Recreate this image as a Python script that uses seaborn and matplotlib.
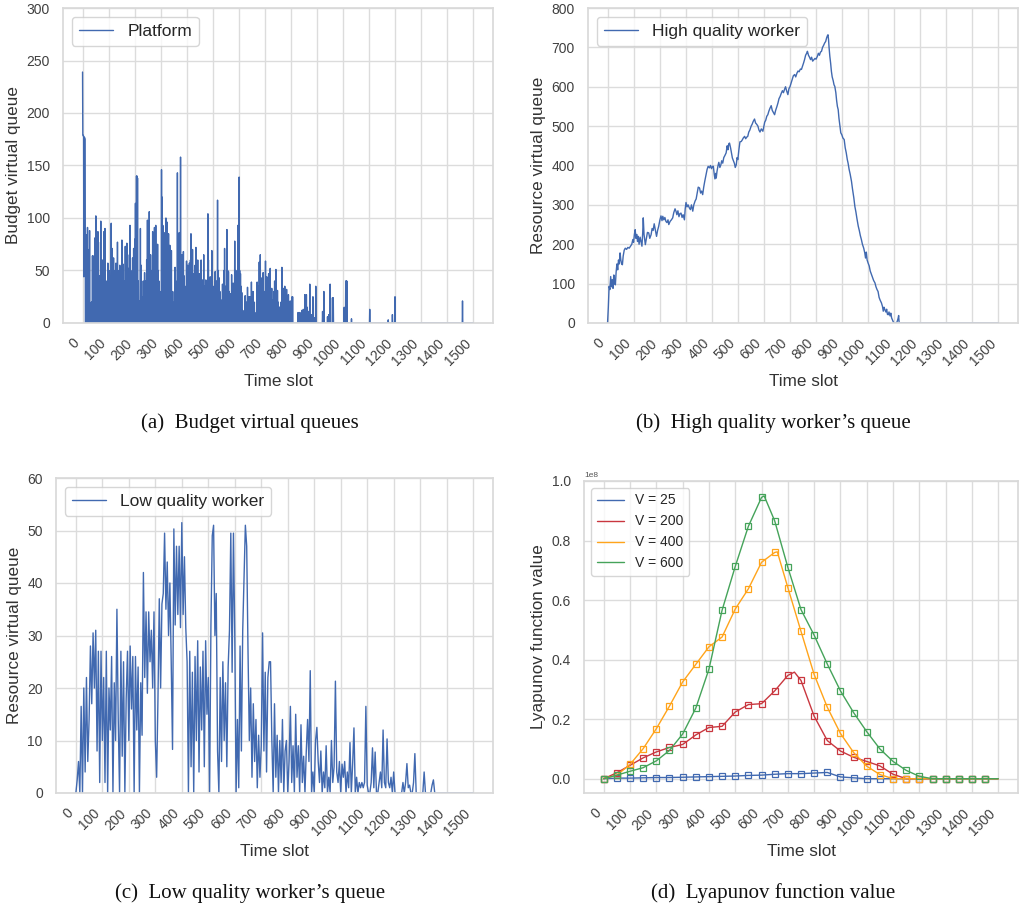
import numpy as np
import pandas as pd
import matplotlib
matplotlib.use("Agg")
import matplotlib.pyplot as plt
import seaborn as sns

# ---------------- data ----------------
TICKS_X = list(range(0, 1501, 100))

# (a) Budget virtual queue of the platform: spikes (time slot, value); zero elsewhere
A_T = [0, 1, 2, 3, 4, 5, 6, 7, 8, 9, 10, 13, 15, 17, 19, 21, 23, 25, 27, 30, 34,
       38, 40, 43, 45, 47, 49, 51, 53, 55, 57, 59, 61, 64, 67, 70, 72, 74, 77, 80, 82, 84, 86, 88, 90,
       93, 95, 97, 100, 102, 104, 107, 110, 112, 114, 117, 119, 121, 123, 125, 128, 131, 134, 136, 138,
       141, 143, 146, 148, 151, 153, 156, 158, 161, 164, 166, 168, 170, 173, 176, 178, 180, 182, 185,
       188, 190, 192, 194, 196, 199, 201, 203, 205, 207, 209, 211, 214, 217, 220, 222, 225, 228, 231,
       233, 236, 238, 241, 243, 246, 249, 251, 253, 256, 258, 261, 263, 266, 269, 271, 274, 276, 278,
       281, 283, 286, 288, 290, 293, 296, 299, 301, 303, 305, 308, 310, 313, 315, 318, 320, 322, 325,
       327, 330, 332, 335, 338, 341, 343, 346, 349, 352, 355, 358, 361, 364, 366, 368, 371, 373, 376,
       378, 381, 384, 387, 389, 392, 394, 397, 399, 401, 404, 407, 410, 412, 414, 416, 419, 422, 425,
       428, 430, 432, 435, 437, 440, 442, 445, 448, 450, 452, 455, 457, 460, 462, 465, 467, 470, 473,
       476, 478, 481, 483, 486, 488, 490, 493, 496, 498, 501, 504, 506, 509, 511, 514, 516, 518, 521,
       524, 527, 531, 534, 537, 540, 542, 545, 548, 551, 554, 557, 560, 563, 566, 569, 572, 575, 578,
       581, 584, 586, 588, 591, 593, 596, 598, 601, 603, 606, 608, 611, 614, 618, 621, 624, 627, 630,
       633, 636, 639, 642, 645, 648, 651, 655, 658, 661, 665, 668, 670, 673, 676, 678, 680, 682, 685,
       688, 690, 693, 696, 699, 702, 705, 707, 710, 712, 714, 717, 720, 723, 726, 728, 731, 734, 737,
       740, 742, 745, 748, 750, 752, 755, 758, 762, 765, 767, 770, 773, 776, 779, 783, 786, 790, 793,
       797, 800, 804, 806, 827, 834, 841, 844, 847, 853, 856, 859, 862, 867, 872, 878, 884, 890, 895,
       921, 926, 940, 945, 950, 959, 962, 1004, 1010, 1012, 1014, 1032, 1102, 1173, 1189, 1199, 1458]
A_V = [239, 179, 179, 178, 178, 44, 177, 177, 176, 176, 175, 60, 84, 30, 91, 40, 5, 70, 88, 3, 20,
       64, 64, 30, 55, 81, 40, 102, 78, 77, 20, 87, 77, 45, 30, 97, 60, 48, 60, 35, 87, 50, 90, 21, 21,
       40, 8, 57, 30, 50, 8, 35, 95, 60, 71, 40, 62, 50, 15, 48, 57, 40, 77, 50, 37,
       25, 55, 9, 40, 79, 45, 56, 20, 40, 73, 60, 30, 76, 65, 52, 20, 45, 93, 50,
       5, 45, 62, 50, 71, 60, 80, 114, 70, 140, 140, 138, 40, 21, 5, 90, 55, 3, 25,
       40, 20, 48, 30, 40, 60, 98, 70, 95, 106, 50, 65, 40, 50, 87, 60, 45, 91, 65,
       93, 55, 60, 75, 50, 40, 20, 8, 30, 146, 120, 93, 70, 86, 60, 45, 100, 75, 96,
       60, 85, 50, 74, 45, 69, 30, 20, 7, 30, 53, 40, 20, 143, 60, 40, 86, 30, 158,
       55, 65, 50, 68, 45, 30, 10, 35, 59, 45, 55, 30, 57, 40, 60, 85, 50, 70, 35,
       47, 25, 55, 72, 40, 50, 60, 30, 47, 25, 40, 60, 30, 41, 20, 65, 35, 25, 41,
       30, 20, 104, 60, 30, 15, 44, 25, 69, 40, 35, 20, 30, 49, 25, 40, 30, 117, 50,
       43, 30, 22, 15, 37, 25, 50, 71, 35, 20, 89, 50, 49, 30, 28, 15, 46, 25, 38,
       30, 78, 50, 30, 35, 50, 93, 60, 139, 50, 47, 35, 29, 12, 5, 12, 26, 15, 20,
       34, 15, 25, 25, 20, 39, 30, 30, 20, 10, 6, 20, 39, 25, 35, 58, 40, 65, 43,
       20, 35, 48, 25, 30, 59, 35, 44, 25, 30, 47, 35, 52, 30, 33, 20, 22, 30, 40,
       25, 51, 20, 31, 20, 16, 10, 15, 20, 53, 25, 33, 15, 35, 20, 32, 15, 27, 12,
       21, 15, 25, 25, 10, 10, 12, 8, 13, 27, 10, 27, 15, 11, 37, 8, 25, 5, 35,
       11, 30, 6, 8, 37, 24, 24, 15, 40, 40, 40, 4, 13, 3, 8, 25, 21]

# (b) Resource virtual queue of the high quality worker
B_T = [0, 3, 6, 9, 12, 15, 18, 21, 24, 27, 30, 33, 36, 39, 42, 45, 48, 51, 54, 57, 60, 64, 68, 73, 78,
       83, 88, 93, 97, 100, 103, 106, 109, 112, 115, 118, 121, 125, 129, 132, 135, 137, 140, 143, 145,
       149, 153, 158, 162, 167, 171, 175, 179, 183, 188, 192, 196, 201, 205, 209, 212, 216, 220, 224,
       228, 232, 235, 240, 245, 250, 254, 259, 263, 266, 270, 274, 278, 282, 286, 290, 295, 298, 301,
       305, 309, 314, 318, 322, 327, 331, 336, 340, 344, 348, 353, 357, 361, 365, 369, 373, 378, 382,
       386, 391, 395, 399, 403, 406, 409, 412, 415, 417, 420, 424, 427, 431, 435, 438, 442, 446, 450,
       455, 459, 462, 465, 468, 472, 476, 479, 483, 487, 490, 494, 497, 500, 504, 508, 513, 517, 521,
       526, 530, 534, 538, 542, 546, 551, 555, 559, 564, 568, 572, 577, 581, 585, 590, 596, 600, 603,
       607, 611, 615, 619, 623, 628, 632, 636, 641, 645, 650, 654, 658, 662, 667, 671, 675, 679, 683,
       687, 692, 696, 700, 705, 709, 713, 718, 722, 727, 731, 735, 740, 744, 748, 752, 756, 760, 764,
       767, 771, 775, 779, 783, 787, 792, 796, 800, 805, 809, 813, 817, 821, 825, 829, 833, 837, 841,
       844, 846, 848, 850, 853, 856, 859, 862, 866, 869, 872, 876, 879, 882, 885, 888, 891, 895, 899,
       903, 908, 912, 916, 920, 923, 927, 931, 936, 940, 945, 949, 953, 957, 962, 966, 970, 974, 978,
       983, 987, 990, 993, 996, 1000, 1004, 1008, 1013, 1017, 1021, 1026, 1030, 1034, 1038, 1042,
       1046, 1051, 1055, 1058, 1061, 1064, 1068, 1071, 1074, 1077, 1080, 1084, 1087, 1090, 1093, 1097,
       1100, 1105, 1109, 1112, 1115, 1117, 1119, 1500]
B_V = [0, 40, 93, 85, 118, 92, 110, 88, 122, 100, 97, 130, 150, 135, 160, 150, 178, 160, 150, 148,
       170, 185, 190, 187, 192, 190, 195, 200, 212, 205, 225, 237, 215, 225, 207, 220, 200, 218, 205,
       195, 230, 267, 225, 210, 199, 215, 230, 229, 215, 224, 240, 235, 252, 238, 220, 235, 245, 262,
       272, 260, 271, 262, 268, 258, 255, 262, 250, 258, 262, 267, 280, 290, 283, 275, 285, 270, 278,
       279, 268, 275, 262, 290, 306, 295, 300, 292, 288, 300, 284, 300, 310, 315, 330, 345, 343, 330,
       335, 326, 345, 360, 377, 390, 398, 394, 400, 392, 398, 398, 380, 366, 380, 368, 385, 400, 408,
       395, 402, 412, 406, 420, 425, 432, 450, 440, 455, 457, 445, 430, 419, 412, 405, 395, 402, 420,
       415, 440, 460, 461, 465, 470, 474, 468, 472, 474, 485, 490, 500, 505, 512, 518, 508, 505, 500,
       490, 485, 493, 487, 500, 510, 515, 525, 529, 538, 545, 552, 540, 535, 529, 540, 550, 559, 570,
       575, 584, 590, 585, 593, 600, 590, 580, 595, 600, 611, 620, 628, 631, 625, 635, 640, 638, 645,
       644, 652, 660, 669, 680, 685, 690, 680, 675, 669, 675, 665, 669, 672, 670, 677, 685, 680, 688,
       690, 700, 705, 711, 715, 725, 730, 732, 720, 700, 677, 660, 639, 625, 615, 605, 601, 585, 565,
       550, 542, 520, 505, 483, 478, 470, 466, 445, 432, 415, 406, 390, 378, 360, 340, 318, 296, 282,
       265, 246, 235, 222, 212, 200, 190, 178, 165, 180, 160, 152, 145, 132, 123, 115, 108, 102, 92,
       85, 80, 65, 58, 51, 42, 30, 40, 34, 28, 35, 22, 21, 28, 18, 25, 13, 8, 2, 0, 0, 0, 5, 12, 19,
       0, 0]

# (c) Resource virtual queue of the low quality worker, one value every 5 time slots
C_T = list(range(0, 1501, 5))
C_V = [0, 2.5, 6, 0, 16.5, 0, 20, 4, 22, 6, 14, 28, 17, 30.5, 20, 31, 8, 27, 2, 27,
       10, 22, 2, 27, 0, 20, 12, 26, 0, 21, 10, 35, 14, 0, 27, 7, 25, 0, 18, 27,
       10, 28, 16, 26, 0, 26, 12, 24, 0, 21, 11, 42, 22, 34.5, 19, 34.5, 25, 31, 20, 34.5,
       10, 3, 18, 37, 20, 36, 38, 49.5, 35, 44, 30, 40, 25, 8.3, 50.3, 32, 47, 34, 47, 31.5,
       51.5, 34, 45, 31.5, 25, 0, 27, 5, 23, 0, 26, 10, 29, 4, 24, 12, 27, 5, 29, 15,
       22, 0, 32, 49, 51, 30, 38, 8, 0, 22, 6, 25, 10, 21, 5, 24, 31, 49.5, 23, 49.5,
       30, 0, 14, 1, 28, 8, 31, 41, 51, 47, 27, 10, 20, 3, 17, 6, 14, 1, 11, 3,
       9, 30.5, 8, 23, 4, 22, 25, 25, 10, 0, 17, 3, 11, 0, 10, 2, 14, 0, 8, 10,
       0, 6, 16.5, 2, 9, 0, 15, 3, 9, 0, 13, 2, 7, 0, 8, 14, 6, 23.3, 0, 4,
       0, 10, 12.5, 6, 2, 8, 0, 4, 1, 9, 0, 3, 0, 10, 2, 5, 21.3, 4, 2, 6,
       0, 5.5, 3, 6, 0, 4, 1, 9.6, 0, 5.5, 12.4, 0, 3, 0, 2, 1, 2, 1, 2, 16.5,
       1.5, 0, 0, 2, 8.6, 1, 7.8, 0, 0, 2, 4, 1, 12, 2, 1, 10.3, 2, 1, 3, 0,
       4, 0, 0, 0, 0, 0, 0, 2, 0, 2, 5.6, 1, 1.5, 0, 0, 2, 7.5, 0, 0, 0,
       0, 0, 0, 4, 0, 0, 0, 0, 0, 1.5, 2.5, 0, 0, 0, 0, 0, 0, 0, 0, 0,
       0, 0, 0, 0, 0, 0, 0, 0, 0, 0, 0, 0, 0, 0, 0, 0, 0, 0, 0, 0,
       0]

# (d) Lyapunov function value (x 1e8), sampled every 50 time slots (markers)
D_T = list(range(0, 1501, 50))
D_LABELS = ["V = 25", "V = 200", "V = 400", "V = 600"]
D_V25 = [0, .002, .002, .003, .004, .004, .005, .006, .007, .008, .009, .011, .012, .015, .017,
         .017, .019, .021, .006, .003, 0, 0, 0, 0, 0, 0, 0, 0, 0, 0, 0]
D_V200 = [0, .020, .045, .070, .090, .105, .115, .147, .172, .176, .224, .249, .252, .295, .347,
          .330, .210, .128, .093, .072, .058, .043, .015, 0, 0, 0, 0, 0, 0, 0, 0]
D_V400 = [0, .012, .048, .101, .168, .244, .325, .384, .443, .476, .570, .638, .727, .760, .642,
          .495, .350, .240, .152, .088, .042, .014, 0, 0, 0, 0, 0, 0, 0, 0, 0]
D_V600 = [0, .012, .025, .037, .060, .095, .150, .237, .368, .566, .713, .848, .945, .866, .710,
          .568, .482, .385, .295, .222, .158, .100, .058, .028, .008, 0, 0, 0, 0, 0, 0]
# extra points of the curves between markers (peaks)
D_EXTRA_T = [[], [725], [660], [610]]
D_EXTRA_V = [[], [.358], [.762], [.950]]
D_SCALE = 1e8
N_MARKERS = 30

# ---------------- style ----------------
sns.set_theme(style="whitegrid")
plt.rcParams["font.family"] = ["Liberation Sans", "DejaVu Sans"]
plt.rcParams["axes.edgecolor"] = "#d9d9d9"
plt.rcParams["grid.color"] = "#dcdcdc"

BLUE = "#4169b0"
D_COLORS = ["#4169b0", "#c9373f", "#ffa41b", "#45a35a"]

W, H = 1021, 911
fig = plt.figure(figsize=(W / 100, H / 100), dpi=100)


def px_axes(l, t, r, b):
    return fig.add_axes([l / W, 1 - b / H, (r - l) / W, (b - t) / H])


def style(ax, ylabel, legend_size=12.5):
    ax.set_xlim(-75, 1575)
    ax.set_xticks(TICKS_X)
    ax.set_xticklabels([str(t) for t in TICKS_X], rotation=45, ha="right", fontsize=10,
                       color="#404040")
    for lab in ax.get_yticklabels():
        lab.set_fontsize(10)
        lab.set_color("#404040")
    ax.set_xlabel("Time slot", fontsize=12.3, color="#333333")
    ax.set_ylabel(ylabel, fontsize=12.3, color="#333333")
    ax.legend(loc="upper left", fontsize=legend_size, frameon=True)


# (a)
ax = px_axes(63, 8, 493, 323)
a_t = np.arange(1500)
a_v = np.zeros(1500)
a_v[A_T] = A_V
sns.lineplot(x=a_t, y=a_v, ax=ax, color=BLUE, lw=1.0, label="Platform")
ax.set_ylim(0, 300)
ax.set_yticks(range(0, 301, 50))
style(ax, "Budget virtual queue")

# (b)
ax = px_axes(588, 8, 1018, 323)
sns.lineplot(x=B_T, y=B_V, ax=ax, color=BLUE, lw=1.0, label="High quality worker")
ax.set_ylim(0, 800)
ax.set_yticks(range(0, 801, 100))
style(ax, "Resource virtual queue")

# (c)
ax = px_axes(56, 478, 493, 793)
sns.lineplot(x=C_T, y=C_V, ax=ax, color=BLUE, lw=1.0, label="Low quality worker")
ax.set_ylim(0, 60)
ax.set_yticks(range(0, 61, 10))
style(ax, "Resource virtual queue")

# (d)
ax = px_axes(584, 481, 1018, 793)
d_series = [D_V25, D_V200, D_V400, D_V600]
for lab, vals, col, et, ev in zip(D_LABELS, d_series, D_COLORS, D_EXTRA_T, D_EXTRA_V):
    df = pd.DataFrame({"t": list(D_T) + et, "v": list(vals) + ev}).sort_values("t")
    sns.lineplot(x=df["t"], y=df["v"] * D_SCALE, ax=ax, color=col, lw=1.0, label=lab)
    sns.lineplot(x=D_T[:N_MARKERS], y=np.array(vals[:N_MARKERS]) * D_SCALE, ax=ax,
                 color=col, linestyle="none", marker="s", ms=4.2, mfc="none",
                 mec=col, mew=0.9, legend=False)
ax.set_ylim(-0.048e8, 1.0e8)
ax.set_yticks(np.arange(0, 1.01, 0.2) * D_SCALE)
style(ax, "Lyapunov function value", legend_size=10)
ax.yaxis.get_offset_text().set_fontsize(6)
ax.yaxis.get_offset_text().set_color("#555555")

# captions
cap = dict(ha="center", va="center", fontsize=15, family=["Liberation Serif", "DejaVu Serif"],
           color="#111111")
fig.text(250 / W, 1 - 423 / H, "(a)  Budget virtual queues", **cap)
fig.text(773 / W, 1 - 423 / H, "(b)  High quality worker\u2019s queue", **cap)
fig.text(250 / W, 1 - 893 / H, "(c)  Low quality worker\u2019s queue", **cap)
fig.text(773 / W, 1 - 893 / H, "(d)  Lyapunov function value", **cap)

fig.savefig("out.png", dpi=100)
